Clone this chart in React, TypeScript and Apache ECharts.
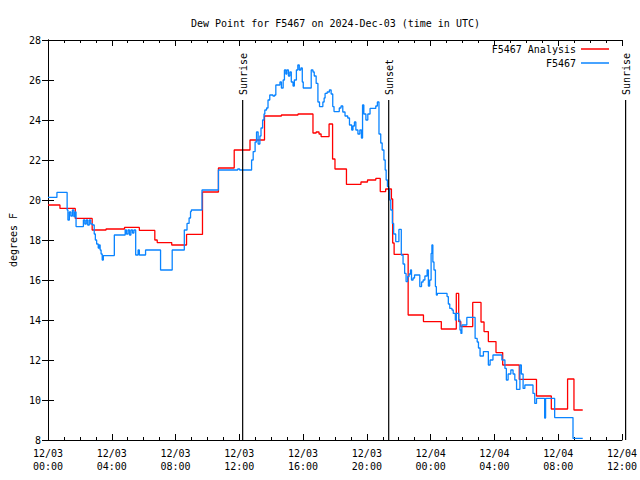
import React, { useEffect, useRef } from 'react';
import * as echarts from 'echarts';

// Hours since 2024-12-03 00:00 UTC
const xTickHours = [0, 4, 8, 12, 16, 20, 24, 28, 32, 36];
const yTicks = [8, 10, 12, 14, 16, 18, 20, 22, 24, 26, 28];

const analysisHours = [
  0, 0.75, 1.71, 2.77, 3.64, 4.8, 5.73, 6.7, 6.85, 7.76, 8.69, 9.69, 10.69, 11.68,
  12.67, 13.58, 14.64, 15.68, 16.62, 16.82, 17.0, 17.13, 17.63, 17.85, 18.0, 18.72,
  19.63, 20.04, 20.56, 20.84, 21.18, 21.54, 21.62, 21.71, 22.59, 23.55, 24.67, 25.61,
  25.76, 25.89, 26.64, 27.16, 27.35, 27.62, 28.1, 28.52, 29.56, 30.64, 31.57, 32.59,
  32.99, 33.54,
];
const analysisValues = [
  19.75, 19.58, 19.08, 18.5, 18.55, 18.63, 18.48, 18.0, 17.87, 17.75, 18.28, 20.4, 21.6, 22.5,
  23.0, 24.2, 24.25, 24.3, 23.35, 23.4, 23.3, 23.17, 23.8, 22.05, 21.55, 20.78,
  20.9, 21.0, 21.08, 20.42, 20.55, 20.05, 17.85, 17.28, 14.25, 13.92, 13.55, 15.33,
  13.92, 13.67, 14.88, 13.9, 13.42, 12.92, 12.37, 11.75, 11.03, 10.2, 9.55, 11.05,
  9.5, 9.5,
];

const obsHours = [
  0, 0.56, 1.2, 1.25, 1.34, 1.43, 1.53, 1.62, 1.7, 1.76, 2.22, 2.31, 2.4, 2.49, 2.59, 2.68,
  2.8, 2.9, 2.97, 3.05, 3.15, 3.21, 3.27, 3.33, 3.4, 3.47, 4.16, 4.84, 4.92, 5.02, 5.11,
  5.2, 5.3, 5.39, 5.5, 5.65, 5.73, 6.12, 7.06, 7.79, 8.55, 8.72, 8.85, 8.94, 8.99, 9.66,
  10.69, 11.9, 12.02, 12.77, 12.87, 12.99, 13.08, 13.18, 13.29, 13.36, 13.46, 13.55, 13.6,
  13.71, 13.8, 13.91, 14.02, 14.11, 14.22, 14.29, 14.43, 14.55, 14.64, 14.75, 14.83, 14.92,
  14.98, 15.08, 15.17, 15.26, 15.37, 15.45, 15.58, 15.67, 15.76, 15.86, 15.95, 16.01, 16.51,
  16.62, 16.7, 16.82, 16.93, 17.03, 17.24, 17.32, 17.38, 17.51, 17.65, 17.76, 17.86, 17.94,
  18.13, 18.27, 18.38, 18.49, 18.63, 18.8, 18.91, 19.05, 19.13, 19.22, 19.31, 19.44, 19.56,
  19.66, 19.73, 19.81, 19.94, 20.06, 20.2, 20.56, 20.66, 20.76, 20.87, 20.96, 21.07, 21.15,
  21.21, 21.29, 21.37, 21.43, 21.5, 21.6, 21.68, 21.81, 22.01, 22.16, 22.27, 22.37, 22.46,
  22.56, 22.65, 22.74, 22.8, 22.9, 22.99, 23.32, 23.43, 23.53, 23.64, 23.78, 23.86, 23.94,
  24.03, 24.08, 24.14, 24.21, 24.3, 24.36, 24.42, 25.03, 25.11, 25.2, 25.34, 25.42, 25.55,
  25.61, 25.76, 25.84, 25.9, 25.96, 26.27, 26.79, 26.92, 27.0, 27.1, 27.31, 27.62, 27.73,
  27.91, 28.47, 28.66, 28.75, 28.86, 29.03, 29.17, 29.28, 29.39, 29.6, 29.69, 29.8, 29.91,
  30.42, 30.53, 30.64, 31.15, 31.21, 31.78, 32.93, 33.54,
];
const obsValues = [
  20.13, 20.38, 19.5, 19.0, 19.4, 19.2, 19.5, 19.17, 19.4, 18.67, 19.0, 18.8, 19.0, 18.75, 19.0, 18.8,
  18.75, 18.3, 18.0, 17.8, 17.6, 17.75, 17.5, 17.3, 17.0, 17.22, 18.25, 18.5, 18.3, 18.5, 18.25,
  18.5, 18.35, 18.5, 17.25, 17.5, 17.25, 17.5, 16.5, 17.5, 18.5, 18.83, 19.1, 19.42, 19.5, 20.5,
  21.5, 21.55, 21.5, 22.0, 22.42, 22.9, 23.4, 22.8, 23.2, 23.6, 24.0, 24.3, 24.5,
  24.6, 25.0, 25.25, 25.25, 25.2, 25.25, 25.75, 25.75, 25.9, 25.6, 26.0, 26.5, 26.3,
  26.5, 26.2, 26.4, 25.9, 25.7, 26.0, 26.5, 26.75, 26.5, 26.6, 25.9, 25.6, 26.5,
  26.4, 26.2, 25.83, 24.9, 24.67, 24.9, 25.1, 25.33, 25.4, 25.5, 25.3, 24.67, 24.42,
  24.42, 24.6, 24.7, 24.4, 24.2, 24.1, 23.75, 23.5, 23.7, 23.9, 23.5, 23.3, 23.5,
  23.1, 24.75, 24.3, 24.0, 24.3, 24.58, 24.7, 24.9, 23.3, 22.85, 22.5, 22.0, 21.5,
  21.0, 20.67, 20.5, 20.0, 19.5, 18.83, 18.3, 17.92, 18.53, 17.25, 16.8, 16.33, 15.92,
  16.17, 16.3, 16.5, 16.0, 16.1, 16.25, 15.67, 15.9, 16.0, 16.2, 16.5, 15.7, 16.0,
  17.33, 17.75, 16.9, 16.5, 15.67, 15.25, 15.33, 15.17, 14.8, 14.58, 14.5, 14.33, 14.0,
  14.33, 14.0, 13.5, 13.33, 13.75, 14.13, 13.08, 12.9, 12.6, 12.2, 12.42, 11.75, 12.0,
  12.25, 12.0, 11.58, 11.0, 11.3, 11.5, 11.3, 11.0, 10.53, 11.75, 11.3, 10.58, 10.75,
  10.33, 9.83, 10.08, 9.1, 10.08, 9.12, 8.08, 8.08,
];

const sunLabels = ['Sunrise', 'Sunset', 'Sunrise'];
const sunHours = [12.21, 21.37, 36.23];
const sunLineTop = 25;

const FONT = 'DejaVu Sans Mono';

function hourLabel(h: number) {
  const day = h < 24 ? '12/03' : '12/04';
  const hh = Math.round(h % 24);
  return `${day}\n${String(hh).padStart(2, '0')}:00`;
}

export default function App() {
  const ref = useRef<HTMLDivElement>(null);
  useEffect(() => {
    if (!ref.current) return;
    const chart = echarts.init(ref.current, undefined, { renderer: 'svg' });
    const axisCommon = {
      type: 'value' as const,
      axisLine: { show: true, lineStyle: { color: '#000', width: 1 } },
      splitLine: { show: false },
    };
    const legendCommon = {
      right: 31,
      align: 'right',
      icon: 'rect',
      itemWidth: 28,
      itemHeight: 1.5,
      padding: 0,
      textStyle: { fontFamily: FONT, fontSize: 10, color: '#000' },
    };
    const option: any = {
      animation: false,
      backgroundColor: '#fff',
      title: {
        text: 'Dew Point for F5467 on 2024-Dec-03 (time in UTC)',
        left: 186,
        top: 13,
        textStyle: { fontFamily: FONT, fontSize: 10, fontWeight: 'normal', color: '#000' },
      },
      legend: [
        { ...legendCommon, data: ['F5467 Analysis'], top: 44 },
        { ...legendCommon, data: ['F5467'], top: 58 },
      ],
      grid: { left: 45, right: 17, top: 40, bottom: 40 },
      xAxis: [
        {
          ...axisCommon,
          min: xTickHours[0],
          max: xTickHours[xTickHours.length - 1],
          interval: 4,
          axisTick: { show: true, inside: true, length: 6, lineStyle: { color: '#000' } },
          minorTick: { show: true, splitNumber: 4, length: 3, lineStyle: { color: '#000' } },
          axisLabel: {
            formatter: (v: number) => hourLabel(v),
            fontFamily: FONT,
            fontSize: 10,
            color: '#000',
            margin: 7,
            lineHeight: 13,
          },
        },
        {
          ...axisCommon,
          position: 'top',
          min: xTickHours[0],
          max: xTickHours[xTickHours.length - 1],
          interval: 4,
          axisTick: { show: true, inside: true, length: 6, lineStyle: { color: '#000' } },
          minorTick: { show: true, splitNumber: 4, length: 3, lineStyle: { color: '#000' } },
          axisLabel: { show: false },
        },
      ],
      yAxis: [
        {
          ...axisCommon,
          min: yTicks[0],
          max: yTicks[yTicks.length - 1],
          interval: 2,
          name: 'degrees F',
          nameLocation: 'middle',
          nameGap: 30,
          nameTextStyle: { fontFamily: FONT, fontSize: 10, color: '#000' },
          axisTick: { show: true, inside: true, length: 6, lineStyle: { color: '#000' } },
          axisLabel: { fontFamily: FONT, fontSize: 10, color: '#000', margin: 7 },
        },
        {
          ...axisCommon,
          position: 'right',
          min: yTicks[0],
          max: yTicks[yTicks.length - 1],
          interval: 2,
          axisTick: { show: true, inside: true, length: 6, lineStyle: { color: '#000' } },
          axisLabel: { show: false },
        },
      ],
      series: [
        {
          name: 'F5467 Analysis',
          type: 'line',
          step: 'end',
          showSymbol: false,
          color: '#ff0000',
          lineStyle: { width: 1.3, color: '#ff0000' },
          data: analysisHours.map((h, i) => [h, analysisValues[i]]),
          z: 3,
        },
        {
          name: 'F5467',
          type: 'line',
          step: 'end',
          showSymbol: false,
          color: '#0a84ff',
          lineStyle: { width: 1.3, color: '#0a84ff' },
          data: obsHours.map((h, i) => [h, obsValues[i]]),
          z: 4,
        },
      ],
    };
    chart.setOption(option);

    const graphics: any[] = [];
    sunHours.forEach((h, i) => {
      const top = chart.convertToPixel({ gridIndex: 0 }, [h, sunLineTop]) as number[];
      const bottom = chart.convertToPixel({ gridIndex: 0 }, [h, yTicks[0]]) as number[];
      graphics.push({
        type: 'line',
        shape: { x1: top[0], y1: top[1], x2: bottom[0], y2: bottom[1] },
        style: { stroke: '#000', lineWidth: 1.2 },
        z: 10,
      });
      graphics.push({
        type: 'text',
        x: top[0] + 1,
        y: top[1] - 5,
        rotation: Math.PI / 2,
        style: {
          text: sunLabels[i],
          fontFamily: FONT,
          fontSize: 10,
          fill: '#000',
          align: 'left',
          verticalAlign: 'middle',
        },
        z: 10,
      });
    });
    chart.setOption({ graphic: graphics });

    return () => chart.dispose();
  }, []);
  return (
    <div
      ref={ref}
      style={{ position: 'fixed', left: 0, top: 0, width: 640, height: 480, background: '#fff' }}
    />
  );
}
